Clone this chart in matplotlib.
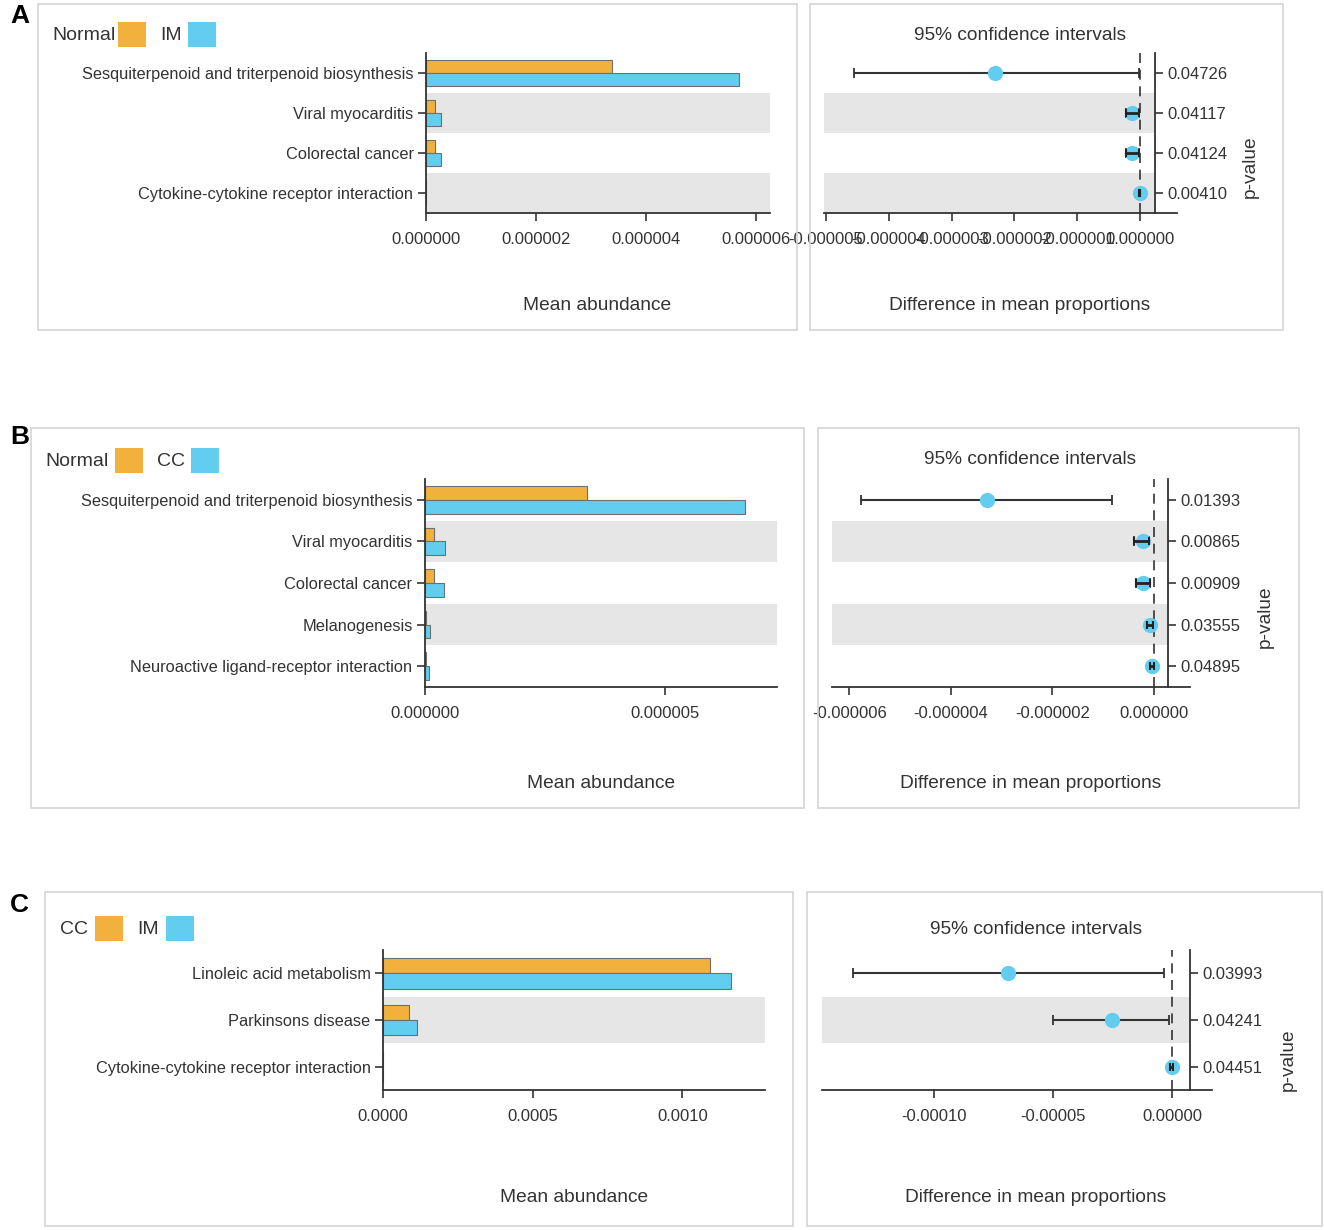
import numpy as np
import matplotlib
matplotlib.use('Agg')
import matplotlib.pyplot as plt
from matplotlib.patches import Rectangle
from matplotlib.ticker import FormatStrFormatter

# ---- data ----
a_groups = ['Normal', 'IM']
a_paths = ['Sesquiterpenoid and triterpenoid biosynthesis', 'Viral myocarditis',
           'Colorectal cancer', 'Cytokine-cytokine receptor interaction']
a_mean1 = [3.38e-6, 0.16e-6, 0.16e-6, 0.002e-6]
a_mean2 = [5.69e-6, 0.27e-6, 0.27e-6, 0.004e-6]
a_diff = [-2.30e-6, -0.13e-6, -0.13e-6, -0.002e-6]
a_lo = [-4.56e-6, -0.22e-6, -0.22e-6, -0.01e-6]
a_hi = [-0.01e-6, -0.01e-6, -0.01e-6, 0.006e-6]
a_p = ['0.04726', '0.04117', '0.04124', '0.00410']

b_groups = ['Normal', 'CC']
b_paths = ['Sesquiterpenoid and triterpenoid biosynthesis', 'Viral myocarditis',
           'Colorectal cancer', 'Melanogenesis', 'Neuroactive ligand-receptor interaction']
b_mean1 = [3.375e-6, 0.19e-6, 0.19e-6, 0.03e-6, 0.03e-6]
b_mean2 = [6.67e-6, 0.42e-6, 0.40e-6, 0.10e-6, 0.08e-6]
b_diff = [-3.29e-6, -0.22e-6, -0.22e-6, -0.07e-6, -0.04e-6]
b_lo = [-5.77e-6, -0.39e-6, -0.355e-6, -0.14e-6, -0.08e-6]
b_hi = [-0.83e-6, -0.09e-6, -0.085e-6, -0.01e-6, 0.0]
b_p = ['0.01393', '0.00865', '0.00909', '0.03555', '0.04895']

c_groups = ['CC', 'IM']
c_paths = ['Linoleic acid metabolism', 'Parkinsons disease',
           'Cytokine-cytokine receptor interaction']
c_mean1 = [0.001092, 0.000087, 0.0000005]
c_mean2 = [0.001162, 0.0001125, 0.0000008]
c_diff = [-6.89e-5, -2.54e-5, -0.03e-5]
c_lo = [-13.41e-5, -4.99e-5, -0.08e-5]
c_hi = [-0.36e-5, -0.15e-5, 0.02e-5]
c_p = ['0.03993', '0.04241', '0.04451']

ORANGE = '#F2B13D'
BLUE = '#63CDF0'
BAND = '#E6E6E6'
INK = '#333333'
FONT = ['Liberation Sans', 'DejaVu Sans']
LAB = 13.8   # titles / axis captions
TICK = 12    # numeric tick labels
CAT = 11.8   # pathway names

W, H = 1324, 1230
plt.rcParams['font.family'] = FONT
plt.rcParams['text.color'] = INK
plt.rcParams['axes.edgecolor'] = INK
plt.rcParams['xtick.color'] = INK
plt.rcParams['ytick.color'] = INK

fig = plt.figure(figsize=(W / 100, H / 100), dpi=100)


def fr(x0, y0, x1, y1):
    return [x0 / W, 1 - y1 / H, (x1 - x0) / W, (y1 - y0) / H]


def ftext(x, y, s, **kw):
    fig.text(x / W, 1 - y / H, s, **kw)


def box(x0, y0, x1, y1):
    fig.add_artist(Rectangle((x0 / W, 1 - y1 / H), (x1 - x0) / W, (y1 - y0) / H,
                             transform=fig.transFigure, fill=False,
                             edgecolor='#d4d4d4', lw=1.2))


def legend(y, groups, pos):
    # pos: x of text1, square1, text2, square2
    ftext(pos[0], y, groups[0], fontsize=14, va='center', ha='left')
    ftext(pos[2], y, groups[1], fontsize=14, va='center', ha='left')
    for sx, col in ((pos[1], ORANGE), (pos[3], BLUE)):
        fig.add_artist(Rectangle((sx / W, 1 - (y + 12) / H), 28 / W, 25 / H,
                                 transform=fig.transFigure, color=col, lw=0))


def bar_panel(rect, paths, m1, m2, xmax, ticks, fmt):
    ax = fig.add_axes(fr(*rect))
    n = len(paths)
    y = np.arange(n)
    for i in range(1, n, 2):
        ax.axhspan(i - 0.5, i + 0.5, color=BAND, lw=0, zorder=0)
    h = 0.33
    ax.barh(y - h / 2, m1, height=h, color=ORANGE, edgecolor='#6f6f6f', lw=0.8, zorder=2)
    ax.barh(y + h / 2, m2, height=h, color=BLUE, edgecolor='#6f6f6f', lw=0.8, zorder=2)
    ax.set_ylim(n - 0.5, -0.5)
    ax.set_xlim(0, xmax)
    ax.set_yticks(y)
    ax.set_yticklabels(paths)
    ax.set_xticks(ticks)
    ax.xaxis.set_major_formatter(FormatStrFormatter(fmt))
    ax.tick_params(axis='x', labelsize=TICK, length=6, width=1.2, pad=8)
    ax.tick_params(axis='y', labelsize=CAT, length=6, width=1.2, pad=3)
    for s in ('top', 'right'):
        ax.spines[s].set_visible(False)
    for s in ('left', 'bottom'):
        ax.spines[s].set_linewidth(1.3)
    ax.patch.set_alpha(0)
    return ax


def ci_panel(rect, diff, lo, hi, pvals, xlim, spine, ticks, fmt):
    ax = fig.add_axes(fr(*rect))
    n = len(diff)
    y = np.arange(n)
    frac = (spine - xlim[0]) / (xlim[1] - xlim[0])
    for i in range(1, n, 2):
        ax.axhspan(i - 0.5, i + 0.5, xmin=0, xmax=frac, color=BAND, lw=0, zorder=0)
    ax.axvline(0, color=INK, lw=1.2, ls=(0, (6, 4)), zorder=1)
    d = np.array(diff)
    lo = np.array(lo)
    hi = np.array(hi)
    err = np.array([d - lo, hi - d])
    ax.errorbar(d, y, xerr=err, fmt='none', ecolor=INK, elinewidth=1.5,
                capsize=3.5, capthick=1.3, zorder=2)
    ax.plot(d, y, 'o', color=BLUE, ms=11, mew=0, zorder=3)
    # short intervals show on top of the dot, as in the original
    small = (hi - lo) < 0.06 * (xlim[1] - xlim[0])
    if small.any():
        ax.errorbar(d[small], y[small], xerr=err[:, small], fmt='none', ecolor='#222222',
                    elinewidth=2, capsize=3, capthick=1.5, zorder=4)
    ax.set_ylim(n - 0.5, -0.5)
    ax.set_xlim(*xlim)
    ax.set_xticks(ticks)
    ax.xaxis.set_major_formatter(FormatStrFormatter(fmt))
    ax.yaxis.tick_right()
    ax.set_yticks(y)
    ax.set_yticklabels(pvals)
    ax.spines['right'].set_position(('data', spine))
    for s in ('top', 'left'):
        ax.spines[s].set_visible(False)
    for s in ('right', 'bottom'):
        ax.spines[s].set_linewidth(1.3)
    ax.tick_params(axis='x', labelsize=TICK, length=6, width=1.2, pad=8)
    ax.tick_params(axis='y', labelsize=TICK, length=6, width=1.2, pad=3)
    ax.patch.set_alpha(0)
    return ax


def caption(x, y, s, rot=0):
    ftext(x, y, s, fontsize=LAB, ha='center', va='center', rotation=rot)


def panel_letter(y, s):
    ftext(10, y, s, fontsize=19, fontweight='bold', color='black', va='center')


# ---------- panel A ----------
box(38, 4, 797, 330)
box(810, 4, 1283, 330)
panel_letter(16, 'A')
legend(35, a_groups, (52, 118, 160, 188))
bar_panel((426, 53, 770, 213), a_paths, a_mean1, a_mean2, 6.25e-6,
          [0, 2e-6, 4e-6, 6e-6], '%.6f')
ci_panel((824, 53, 1177, 213), a_diff, a_lo, a_hi, a_p, (-5.03e-6, 0.59e-6), 0.24e-6,
         [-5e-6, -4e-6, -3e-6, -2e-6, -1e-6, 0], '%.6f')
caption(1020, 35, '95% confidence intervals')
caption(597, 305, 'Mean abundance')
caption(1020, 305, 'Difference in mean proportions')
caption(1250, 167, 'p-value', 90)

# ---------- panel B ----------
box(31, 428, 804, 808)
box(818, 428, 1299, 808)
panel_letter(437, 'B')
legend(461, b_groups, (45, 115, 157, 191))
bar_panel((425, 479, 777, 687), b_paths, b_mean1, b_mean2, 7.33e-6,
          [0, 5e-6], '%.6f')
ci_panel((832, 479, 1190, 687), b_diff, b_lo, b_hi, b_p, (-6.34e-6, 0.71e-6), 0.28e-6,
         [-6e-6, -4e-6, -2e-6, 0], '%.6f')
caption(1030, 460, '95% confidence intervals')
caption(601, 783, 'Mean abundance')
caption(1031, 783, 'Difference in mean proportions')
caption(1265, 617, 'p-value', 90)

# ---------- panel C ----------
box(45, 892, 793, 1226)
box(807, 892, 1322, 1226)
panel_letter(905, 'C')
legend(929, c_groups, (60, 95, 137, 166))
bar_panel((383, 950, 765, 1090), c_paths, c_mean1, c_mean2, 0.001276,
          [0, 0.0005, 0.001], '%.4f')
ci_panel((822, 950, 1212, 1090), c_diff, c_lo, c_hi, c_p, (-1.471e-4, 0.167e-4), 0.076e-4,
         [-1e-4, -5e-5, 0], '%.5f')
caption(1036, 929, '95% confidence intervals')
caption(574, 1198, 'Mean abundance')
caption(1036, 1198, 'Difference in mean proportions')
caption(1288, 1060, 'p-value', 90)

fig.savefig('out.png', dpi=100)
